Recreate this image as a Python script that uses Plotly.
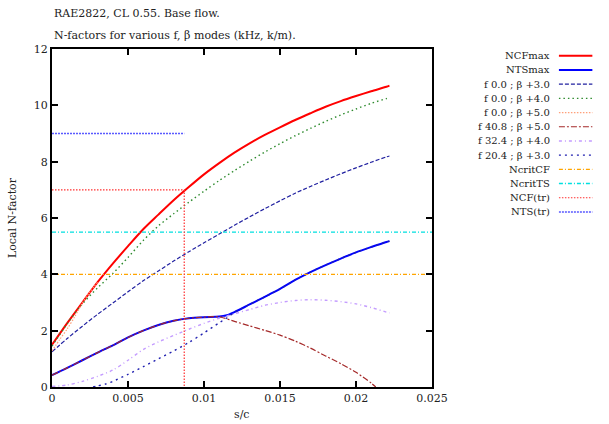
import plotly.graph_objects as go

# ---- data -----------------------------------------------------------------
s_env = [0, 0.001, 0.002, 0.003, 0.004, 0.005, 0.006, 0.007, 0.008, 0.009,
         0.010, 0.011, 0.012, 0.013, 0.014, 0.015, 0.016, 0.017, 0.018,
         0.019, 0.020, 0.021, 0.022, 0.0222]
ncf_max = [1.5, 2.27, 3.0, 3.72, 4.38, 5.0, 5.6, 6.12, 6.63, 7.1, 7.55, 7.95,
           8.32, 8.65, 8.95, 9.22, 9.48, 9.72, 9.95, 10.15, 10.33, 10.5,
           10.66, 10.7]

s_ts = [0, 0.001, 0.002, 0.003, 0.004, 0.005, 0.006, 0.007, 0.008, 0.009,
        0.010, 0.011, 0.0115, 0.012, 0.013, 0.014, 0.015, 0.016, 0.017,
        0.018, 0.019, 0.020, 0.021, 0.022, 0.0222]
nts_max = [0.42, 0.68, 0.95, 1.22, 1.48, 1.76, 2.0, 2.2, 2.35, 2.44, 2.48,
           2.5, 2.55, 2.66, 2.93, 3.2, 3.48, 3.8, 4.08, 4.33, 4.56, 4.78,
           4.97, 5.15, 5.18]

n_f0_b3 = [1.25, 1.72, 2.16, 2.58, 2.98, 3.38, 3.77, 4.12, 4.47, 4.8, 5.12,
           5.43, 5.74, 6.04, 6.33, 6.61, 6.88, 7.12, 7.35, 7.57, 7.78, 7.98,
           8.17, 8.2]
n_f0_b4 = [1.45, 2.25, 2.95, 3.52, 4.03, 4.6, 5.2, 5.72, 6.15, 6.56, 6.95,
           7.33, 7.68, 8.02, 8.34, 8.64, 8.92, 9.18, 9.43, 9.66, 9.87, 10.07,
           10.24, 10.27]

s_f0_b5 = [0, 0.0005, 0.001, 0.0015, 0.002, 0.0025, 0.003]
n_f0_b5 = [1.28, 1.68, 2.06, 2.5, 2.98, 3.38, 3.72]

s_f408 = [0, 0.001, 0.002, 0.003, 0.004, 0.005, 0.006, 0.007, 0.008, 0.009,
          0.010, 0.011, 0.012, 0.013, 0.014, 0.015, 0.016, 0.017, 0.018,
          0.019, 0.020, 0.021, 0.0213]
n_f408 = [0.42, 0.68, 0.95, 1.22, 1.48, 1.76, 2.0, 2.2, 2.35, 2.44, 2.48,
          2.49, 2.33, 2.17, 2.01, 1.84, 1.63, 1.38, 1.1, 0.83, 0.52, 0.14, 0.0]

n_f324 = [0.02, 0.07, 0.2, 0.38, 0.6, 0.95, 1.33, 1.6, 1.83, 2.05, 2.26,
          2.44, 2.6, 2.75, 2.9, 3.0, 3.07, 3.1, 3.08, 3.03, 2.95, 2.82, 2.66,
          2.63]

s_f204 = [0.0027, 0.003, 0.0035, 0.004, 0.005, 0.006, 0.007, 0.008, 0.009,
          0.010, 0.011, 0.0115, 0.012, 0.013, 0.014, 0.015, 0.016, 0.017,
          0.018, 0.019, 0.020, 0.021, 0.022, 0.0222]
n_f204 = [0.0, 0.04, 0.1, 0.2, 0.45, 0.72, 1.0, 1.28, 1.58, 1.92, 2.28, 2.45,
          2.64, 2.93, 3.2, 3.48, 3.8, 4.08, 4.33, 4.56, 4.78, 4.97, 5.15,
          5.18]

ncrit_cf = 4.0
ncrit_ts = 5.5
s_tr = 0.0087
ncf_tr = 7.0
nts_tr = 9.0
s_range = [0, 0.025]

x_ticks = [0, 0.005, 0.01, 0.015, 0.02, 0.025]
x_tick_text = ["0", "0.005", "0.01", "0.015", "0.02", "0.025"]
y_ticks = [0, 2, 4, 6, 8, 10, 12]

FONT = "DejaVu Serif"

# (name, x, y, colour, width, dash, shape)
series = [
    ("NCFmax", s_env, ncf_max, "#ff0000", 2, "solid", "spline"),
    ("NTSmax", s_ts, nts_max, "#0000ff", 2, "solid", "spline"),
    ("f 0.0 ; \u03b2 +3.0", s_env, n_f0_b3, "#2020a0", 1.2, "4px,2px", "spline"),
    ("f 0.0 ; \u03b2 +4.0", s_env, n_f0_b4, "#2e8b2e", 1.4, "1.5px,3px", "spline"),
    ("f 0.0 ; \u03b2 +5.0", s_f0_b5, n_f0_b5, "#ffa07a", 1.2, "1.5px,1.5px", "spline"),
    ("f 40.8 ; \u03b2 +5.0", s_f408, n_f408, "#a52a2a", 1.2, "6px,2px,2px,2px", "spline"),
    ("f 32.4 ; \u03b2 +4.0", s_env, n_f324, "#c49cff", 1.4, "3px,3px,1px,3px", "spline"),
    ("f 20.4 ; \u03b2 +3.0", s_f204, n_f204, "#2020b0", 1.4, "2px,4px", "spline"),
    ("NcritCF", s_range, [ncrit_cf, ncrit_cf], "#ffa500", 1.4, "4px,2px,1px,2px", "linear"),
    ("NcritTS", s_range, [ncrit_ts, ncrit_ts], "#00e0e0", 1.4, "4px,2px,1px,2px", "linear"),
    ("NCF(tr)", [0, s_tr, s_tr], [ncf_tr, ncf_tr, 0], "#ff3030", 1.2, "1.5px,1.5px", "linear"),
    ("NTS(tr)", [0, s_tr], [nts_tr, nts_tr], "#5a5aff", 1.6, "2px,1px", "linear"),
]

fig = go.Figure()
for name, xs, ys, col, w, dash, shp in series:
    fig.add_trace(go.Scatter(x=xs, y=ys, mode="lines", name=name,
                             line=dict(color=col, width=w, dash=dash,
                                       shape=shp, smoothing=0.8),
                             showlegend=False, hoverinfo="skip"))

# key on the right: right-aligned text with a line sample after it
annotations = []
shapes = []
key_top = 0.980
key_step = 14.2 / 338
for i, (name, xs, ys, col, w, dash, shp) in enumerate(series):
    yk = key_top - i * key_step
    annotations.append(dict(xref="paper", yref="paper", x=1.316, y=yk,
                            text=name, showarrow=False, xanchor="right",
                            yanchor="middle",
                            font=dict(family=FONT, size=10, color="#222")))
    shapes.append(dict(type="line", xref="paper", yref="paper",
                       x0=1.334, x1=1.422, y0=yk, y1=yk,
                       line=dict(color=col, width=w, dash=dash)))

# titles
annotations += [
    dict(xref="paper", yref="paper", x=0.0, y=1.104, xanchor="left",
         yanchor="middle", showarrow=False, text="RAE2822, CL 0.55. Base flow.",
         font=dict(family=FONT, size=11, color="#222")),
    dict(xref="paper", yref="paper", x=0.0, y=1.041, xanchor="left",
         yanchor="middle", showarrow=False,
         text="N-factors for various f, \u03b2 modes (kHz, k/m).",
         font=dict(family=FONT, size=11, color="#222")),
    dict(xref="paper", yref="paper", x=0.5, y=-0.08, xanchor="center",
         yanchor="middle", showarrow=False, text="s/c",
         font=dict(family=FONT, size=11, color="#222")),
    dict(xref="paper", yref="paper", x=-0.105, y=0.5, xanchor="center",
         yanchor="middle", showarrow=False, text="Local N-factor",
         textangle=-90, font=dict(family=FONT, size=11, color="#222")),
]

axis_common = dict(showgrid=False, zeroline=False, showline=True,
                   linecolor="black", linewidth=2, mirror="allticks",
                   ticks="inside", ticklen=6, tickwidth=1.5, tickcolor="black",
                   tickfont=dict(family=FONT, size=11, color="#222"))

fig.update_layout(
    width=609, height=424,
    margin=dict(l=52, r=177, t=49, b=37),
    paper_bgcolor="white", plot_bgcolor="white",
    xaxis=dict(range=s_range, tickvals=x_ticks, ticktext=x_tick_text,
               **axis_common),
    yaxis=dict(range=[0, 12], tickvals=y_ticks, **axis_common),
    annotations=annotations,
    shapes=shapes,
    showlegend=False,
)

fig.write_html("out.html")
